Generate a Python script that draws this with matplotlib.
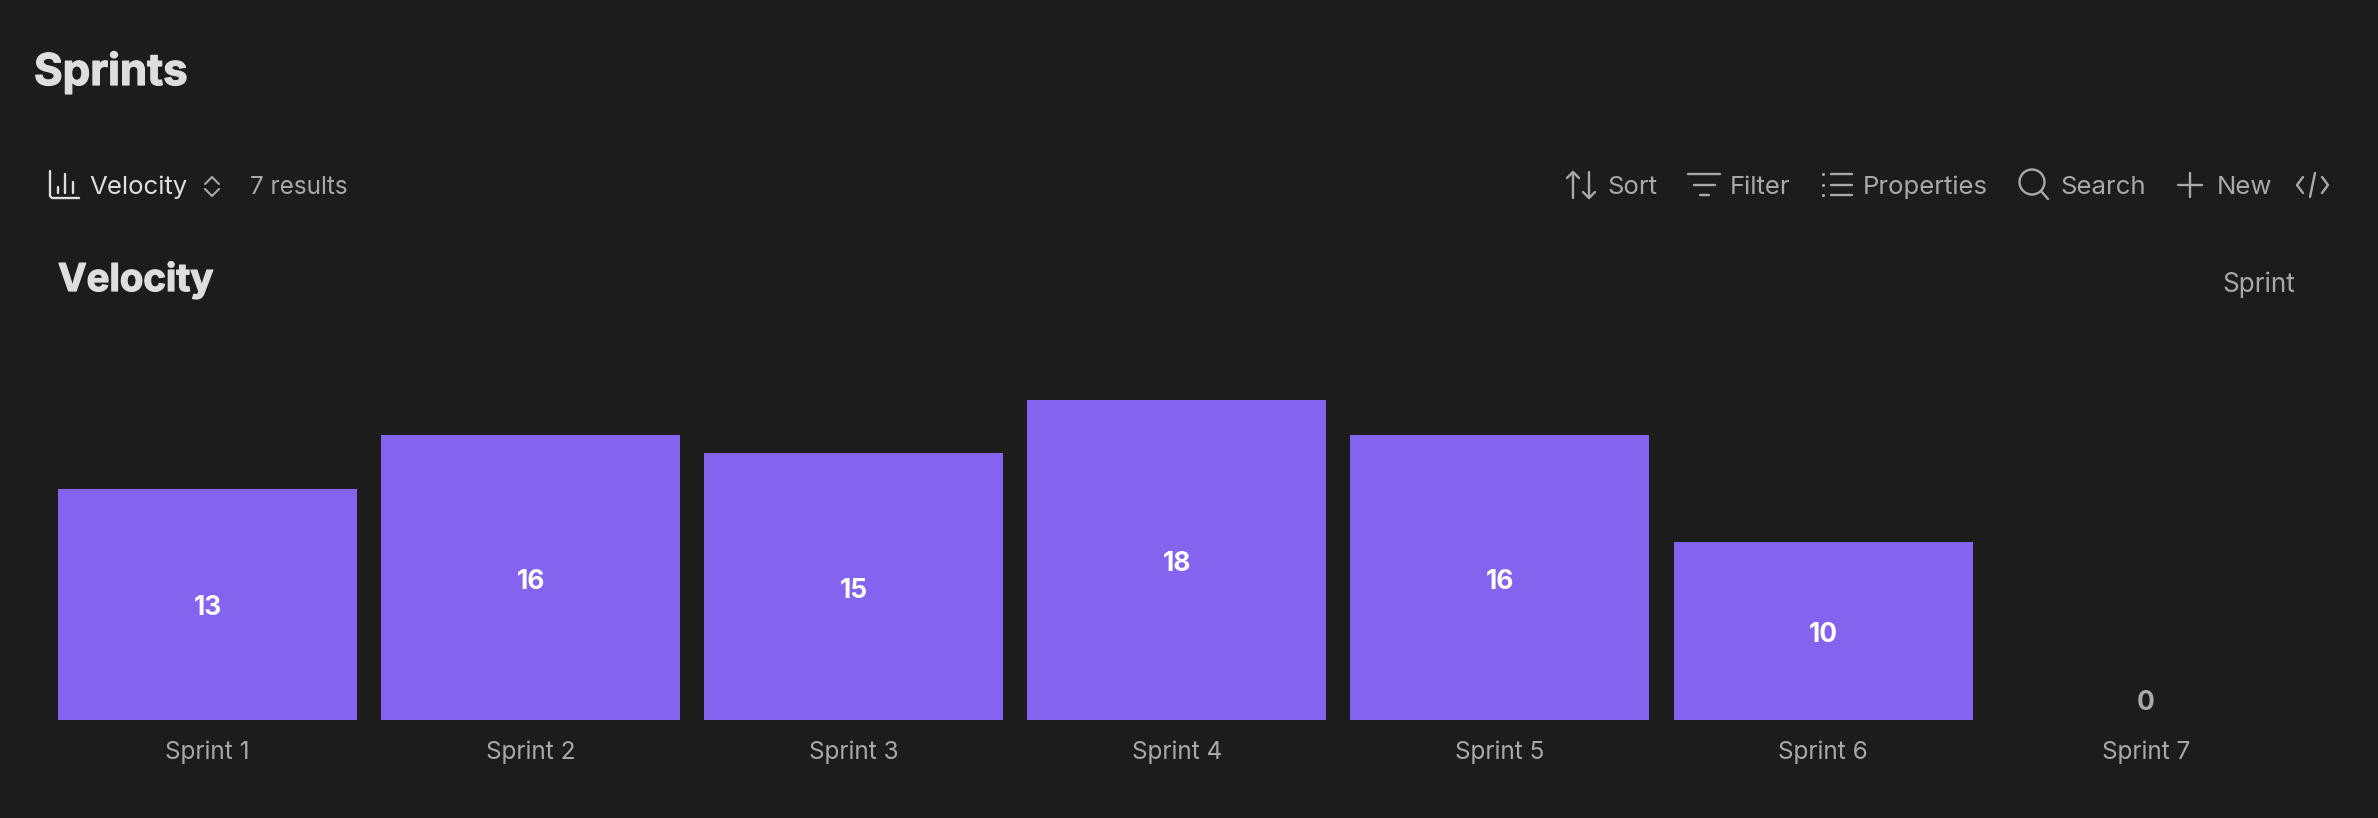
import matplotlib
matplotlib.use("Agg")
import matplotlib.pyplot as plt
import matplotlib.patheffects as pe
from matplotlib.patches import Circle

categories = ["Sprint 1", "Sprint 2", "Sprint 3", "Sprint 4", "Sprint 5", "Sprint 6", "Sprint 7"]
velocity = [13, 16, 15, 18, 16, 10, 0]
page_title = "Sprints"
chart_title = "Velocity"
view_name = "Velocity"
results_label = "7 results"
axis_name = "Sprint"
toolbar_items = [("Sort", 1607), ("Filter", 1730), ("Properties", 1863), ("Search", 2060), ("New", 2216.5)]

BG = "#1c1c1c"; BAR = "#8463ee"; MUTED = "#a9a9a9"; LIGHT = "#dedede"; BRIGHT = "#ffffff"
W, H = 2378, 818
plt.rcParams["font.family"] = ["Inter", "DejaVu Sans"]

fig = plt.figure(figsize=(W / 100, H / 100), dpi=100, facecolor=BG)

# chart axes
PITCH = 323.1
L, T, B = 46, 330, 720
R = L + 7 * PITCH
ax = fig.add_axes([L / W, 1 - B / H, (R - L) / W, (B - T) / H], facecolor=BG)
xs = list(range(len(categories)))
bars = ax.bar(xs, velocity, width=299 / PITCH, color=BAR, linewidth=0)
ax.set_xlim(-0.5, 6.5)
ax.set_ylim(0, (B - T) / 17.8)
for s in ax.spines.values():
    s.set_visible(False)
ax.set_yticks([])
ax.set_xticks(xs, categories, fontsize=17.5, color=MUTED)
ax.tick_params(axis="x", length=0, pad=14.5)
for x, v in zip(xs, velocity):
    off = -3 if v > 0 else 12
    ax.annotate(str(v), (x, v / 2), xytext=(0, off), textcoords="offset points", ha="center", va="center",
                fontsize=19, fontweight="bold", color=BRIGHT if v > 0 else MUTED)

# page overlay in pixel coordinates
ui = fig.add_axes([0, 0, 1, 1], facecolor="none")
ui.set_xlim(0, W); ui.set_ylim(H, 0); ui.axis("off")

heavy = [pe.withStroke(linewidth=0.9, foreground=LIGHT)]
ui.text(34, 85, page_title, fontsize=31.5, fontweight="bold", color=LIGHT, va="baseline", path_effects=heavy)
ui.text(58, 291, chart_title, fontsize=27.6, fontweight="bold", color=LIGHT, va="baseline", path_effects=heavy)
ui.text(89, 194, view_name, fontsize=18.6, color=LIGHT, va="baseline")
ui.text(250, 194, results_label, fontsize=17.5, color=MUTED, va="baseline")
ui.text(2222.5, 292, axis_name, fontsize=18.8, color=MUTED, va="baseline")
for label, x in toolbar_items:
    ui.text(x, 194, label, fontsize=18.5, color=MUTED, va="baseline")

def line(xv, yv, c=MUTED, lw=1.7):
    ui.plot(xv, yv, color=c, lw=lw, solid_capstyle="round", solid_joinstyle="round")

# chart icon
line([50, 50, 52, 79], [171, 196, 198, 198], LIGHT)
line([58, 58], [187, 193], LIGHT); line([65, 65], [174, 193], LIGHT); line([73, 73], [182, 193], LIGHT)
# chevrons
line([205, 212, 219], [184, 177, 184], MUTED, 1.5); line([205, 212, 219], [189, 196, 189], MUTED, 1.5)
# sort
line([1573, 1573], [172, 198]); line([1567, 1573, 1579], [178, 172, 178])
line([1589, 1589], [172, 198]); line([1583, 1589, 1595], [192, 198, 192])
# filter
line([1688, 1720], [174, 174]); line([1694, 1715], [185, 185]); line([1700, 1709], [195, 195])
# properties
for y in (174, 185, 195):
    ui.plot([1823], [y], marker="o", ms=2.2, color=MUTED, mew=0)
    line([1831, 1852], [y, y])
# search
ui.add_patch(Circle((2032, 182), 12.5, fill=False, ec=MUTED, lw=1.7))
line([2041, 2048], [191, 199])
# plus
line([2190, 2190], [173, 197]); line([2178, 2202], [185, 185])
# code
line([2303, 2297, 2303], [177, 185, 193]); line([2315, 2310], [173, 197]); line([2322, 2328, 2322], [177, 185, 193])

fig.savefig("out.png", dpi=100, facecolor=BG)
